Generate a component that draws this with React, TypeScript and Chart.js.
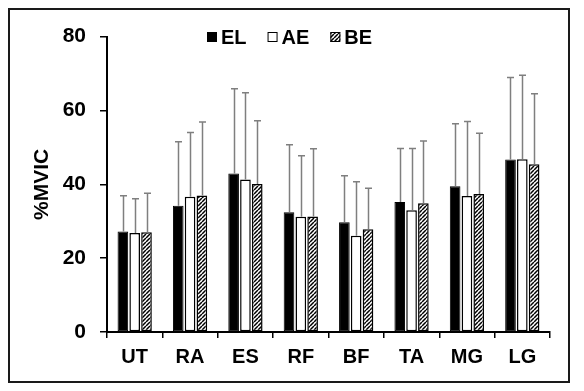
import React, { useEffect, useRef } from "react";
import { Chart, registerables } from "chart.js";

Chart.register(...registerables);

const categories = ["UT", "RA", "ES", "RF", "BF", "TA", "MG", "LG"];
const seriesNames = ["EL", "AE", "BE"];
const elMean = [27.2, 34.2, 42.9, 32.4, 29.7, 35.2, 39.5, 46.7];
const aeMean = [26.8, 36.6, 41.3, 31.2, 26.1, 33.0, 36.8, 46.8];
const beMean = [27.0, 37.0, 40.1, 31.3, 27.8, 34.9, 37.4, 45.4];
const elSD = [9.7, 17.3, 23.0, 18.3, 12.6, 14.5, 16.9, 22.2];
const aeSD = [9.3, 17.4, 23.5, 16.5, 14.6, 16.7, 20.2, 22.7];
const beSD = [10.6, 19.9, 17.1, 18.3, 11.1, 16.8, 16.4, 19.1];
const yTicks = [0, 20, 40, 60, 80];
const yTitle = "%MVIC";

const FONT = "Arial, 'Liberation Sans', Helvetica, sans-serif";

function makeHatch(): CanvasPattern | string {
  const c = document.createElement("canvas");
  const n = 4;
  c.width = n;
  c.height = n;
  const g = c.getContext("2d");
  if (!g) return "#888";
  g.fillStyle = "#fff";
  g.fillRect(0, 0, n, n);
  g.strokeStyle = "#000";
  g.lineWidth = 1.5;
  g.beginPath();
  for (let k = -1; k <= 1; k++) {
    g.moveTo(k * n, n);
    g.lineTo(k * n + n, 0);
  }
  g.stroke();
  return g.createPattern(c, "repeat") || "#888";
}

export default function App() {
  const ref = useRef<HTMLCanvasElement | null>(null);

  useEffect(() => {
    if (!ref.current) return;
    const hatch = makeHatch();
    const means = [elMean, aeMean, beMean];
    const sds = [elSD, aeSD, beSD];
    const fills: (string | CanvasPattern)[] = ["#000", "#fff", hatch];

    const errorBars = {
      id: "errorBars",
      afterDatasetsDraw(chart: any) {
        const ctx = chart.ctx;
        const yScale = chart.scales.y;
        ctx.save();
        ctx.strokeStyle = "#7f7f7f";
        ctx.lineWidth = 1.5;
        chart.data.datasets.forEach((ds: any, di: number) => {
          const meta = chart.getDatasetMeta(di);
          meta.data.forEach((bar: any, i: number) => {
            const top = yScale.getPixelForValue(means[di][i] + sds[di][i]);
            const x = Math.round(bar.x) + 0.5;
            ctx.beginPath();
            ctx.moveTo(x, bar.y);
            ctx.lineTo(x, top);
            ctx.moveTo(x - 3.5, top);
            ctx.lineTo(x + 3.5, top);
            ctx.stroke();
          });
        });
        ctx.restore();
      },
    };

    const legendPlugin = {
      id: "customLegend",
      afterDraw(chart: any) {
        const ctx = chart.ctx;
        ctx.save();
        ctx.font = `bold 20px ${FONT}`;
        ctx.textBaseline = "middle";
        ctx.textAlign = "left";
        let x = 197;
        const cy = 27;
        const sq = 10;
        seriesNames.forEach((name, i) => {
          ctx.fillStyle = fills[i];
          ctx.fillRect(x, cy - sq / 2, sq, sq);
          ctx.strokeStyle = "#000";
          ctx.lineWidth = 1;
          ctx.strokeRect(x + 0.5, cy - sq / 2 + 0.5, sq - 1, sq - 1);
          x += sq + 4;
          ctx.fillStyle = "#000";
          ctx.fillText(name, x, cy + 1);
          x += ctx.measureText(name).width + 21;
        });
        ctx.restore();
      },
    };

    const chart = new Chart(ref.current, {
      type: "bar",
      data: {
        labels: categories,
        datasets: seriesNames.map((name, i) => ({
          label: name,
          data: means[i],
          backgroundColor: fills[i] as any,
          borderColor: "#000",
          borderWidth: i === 0 ? 1 : 1.5,
          borderSkipped: false,
          categoryPercentage: 0.64,
          barPercentage: 0.9,
        })),
      },
      options: {
        animation: false,
        responsive: false,
        devicePixelRatio: 1,
        layout: { padding: { top: 19, right: 18, left: 0, bottom: 0 } },
        plugins: {
          legend: { display: false },
          tooltip: { enabled: false },
        },
        scales: {
          x: {
            grid: {
              display: true,
              drawOnChartArea: false,
              drawTicks: true,
              tickLength: 6,
              color: "#000",
              lineWidth: 1.5,
              offset: true,
            },
            border: { display: true, color: "#000", width: 2 },
            ticks: {
              color: "#000",
              font: { family: FONT, size: 20, weight: "bold" },
              padding: 7,
              maxRotation: 0,
              autoSkip: false,
            },
            afterFit: (s: any) => {
              s.height = 49;
            },
          },
          y: {
            min: yTicks[0],
            max: yTicks[yTicks.length - 1],
            ticks: {
              stepSize: yTicks[1] - yTicks[0],
              color: "#000",
              font: { family: FONT, size: 21, weight: "bold" },
              padding: 14,
            },
            grid: {
              drawOnChartArea: false,
              drawTicks: true,
              tickLength: 7,
              color: "#000",
              lineWidth: 1.5,
            },
            border: { display: true, color: "#000", width: 2 },
            title: {
              display: true,
              text: yTitle,
              color: "#000",
              font: { family: FONT, size: 21, weight: "bold" },
              padding: { top: 20, bottom: 0 },
            },
            afterFit: (s: any) => {
              s.width = 97;
            },
          },
        },
      } as any,
      plugins: [errorBars, legendPlugin],
    });

    return () => chart.destroy();
  }, []);

  return (
    <div
      style={{
        width: 562,
        height: 375,
        border: "2px solid #1a1a1a",
        boxSizing: "border-box",
        background: "#fff",
      }}
    >
      <canvas ref={ref} width={558} height={371} style={{ display: "block" }} />
    </div>
  );
}
